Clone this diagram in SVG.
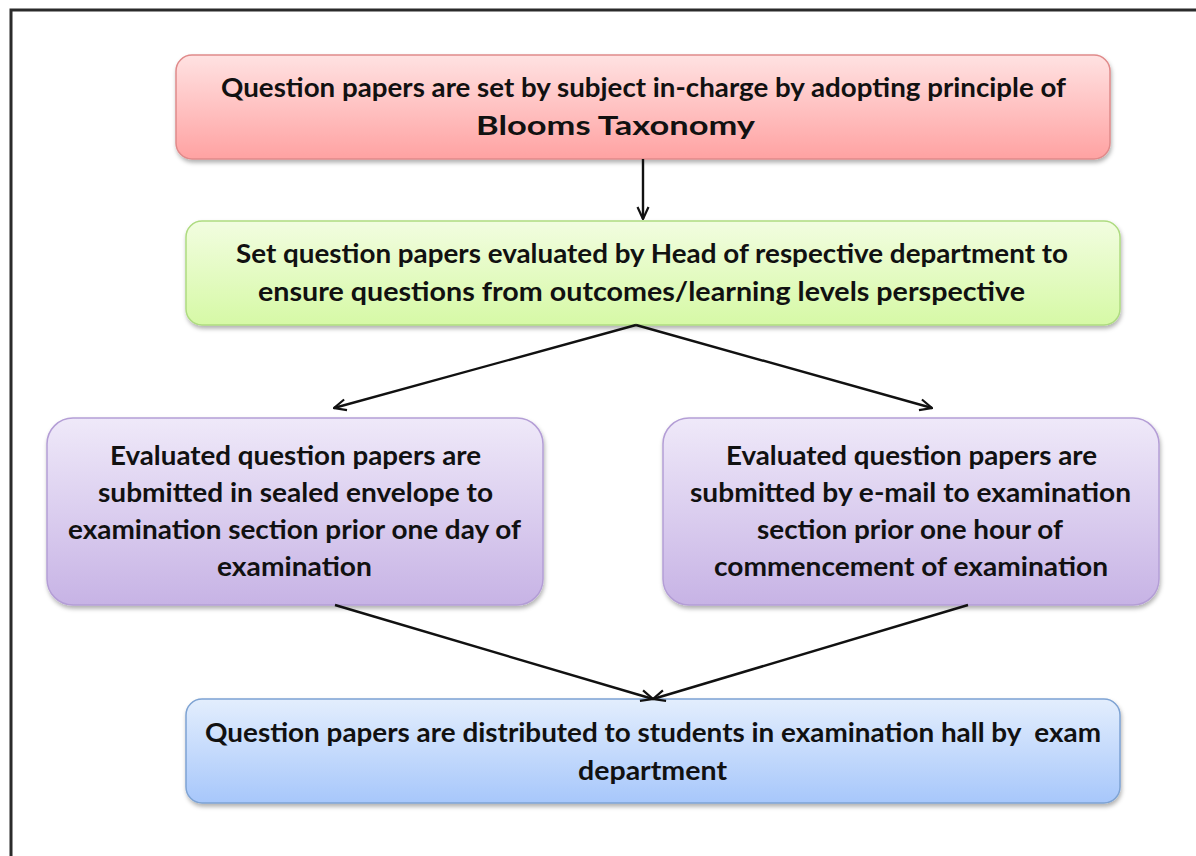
<svg xmlns="http://www.w3.org/2000/svg" width="1196" height="856" viewBox="0 0 1196 856">
<defs>
<style>
.t{font-family:Lato,"Liberation Sans",sans-serif;font-weight:bold;font-size:27.5px;fill:#111;white-space:pre;}
.c{fill:none;stroke:#111;stroke-width:2.4;}
</style>
<linearGradient id="gRed" x1="0" y1="0" x2="0" y2="1"><stop offset="0" stop-color="#ffe2e2"/><stop offset="1" stop-color="#ffa2a2"/></linearGradient>
<linearGradient id="gGreen" x1="0" y1="0" x2="0" y2="1"><stop offset="0" stop-color="#f2fde0"/><stop offset="1" stop-color="#d6f9a6"/></linearGradient>
<linearGradient id="gPurple" x1="0" y1="0" x2="0" y2="1"><stop offset="0" stop-color="#efe9f9"/><stop offset="1" stop-color="#c7b3e5"/></linearGradient>
<linearGradient id="gBlue" x1="0" y1="0" x2="0" y2="1"><stop offset="0" stop-color="#e3eefd"/><stop offset="1" stop-color="#a7c7fb"/></linearGradient>
<filter id="sh" x="-5%" y="-10%" width="110%" height="130%"><feDropShadow dx="1" dy="3" stdDeviation="2" flood-color="#000" flood-opacity="0.3"/></filter>
<marker id="arr" viewBox="0 0 14 14" refX="13" refY="7" markerWidth="14" markerHeight="14" markerUnits="userSpaceOnUse" orient="auto"><path d="M1,1.5 L13,7 L1,12.5" fill="none" stroke="#111" stroke-width="2.2"/></marker>
</defs>
<rect width="1196" height="856" fill="#fff"/>
<rect x="11" y="10" width="1200" height="860" fill="none" stroke="#2b2b2b" stroke-width="3"/>

<g id="n1">
<rect x="176" y="55" width="934" height="104" rx="16" fill="url(#gRed)" stroke="#e08a8a" stroke-width="1.5" filter="url(#sh)"/>
<text class="t" x="221" y="97" textLength="845" lengthAdjust="spacingAndGlyphs">Question papers are set by subject in-charge by adopting principle of</text>
<text class="t" x="476" y="135" textLength="279" lengthAdjust="spacingAndGlyphs">Blooms Taxonomy</text>
</g>

<g id="n2">
<rect x="186" y="221" width="934" height="104" rx="16" fill="url(#gGreen)" stroke="#aedb80" stroke-width="1.5" filter="url(#sh)"/>
<text class="t" x="236" y="263" textLength="832" lengthAdjust="spacingAndGlyphs">Set question papers evaluated by Head of respective department to</text>
<text class="t" x="258" y="301" textLength="767" lengthAdjust="spacingAndGlyphs">ensure questions from outcomes/learning levels perspective</text>
</g>

<g id="n3">
<rect x="47" y="418" width="496" height="187" rx="26" fill="url(#gPurple)" stroke="#b49ed6" stroke-width="1.5" filter="url(#sh)"/>
<text class="t" x="110" y="465" textLength="371" lengthAdjust="spacingAndGlyphs">Evaluated question papers are</text>
<text class="t" x="98" y="502" textLength="395" lengthAdjust="spacingAndGlyphs">submitted in sealed envelope to</text>
<text class="t" x="68" y="539" textLength="453" lengthAdjust="spacingAndGlyphs">examination section prior one day of</text>
<text class="t" x="217" y="576" textLength="155" lengthAdjust="spacingAndGlyphs">examination</text>
</g>

<g id="n4">
<rect x="663" y="418" width="496" height="187" rx="26" fill="url(#gPurple)" stroke="#b49ed6" stroke-width="1.5" filter="url(#sh)"/>
<text class="t" x="726" y="465" textLength="371" lengthAdjust="spacingAndGlyphs">Evaluated question papers are</text>
<text class="t" x="690" y="502" textLength="441" lengthAdjust="spacingAndGlyphs">submitted by e-mail to examination</text>
<text class="t" x="757" y="539" textLength="306" lengthAdjust="spacingAndGlyphs">section prior one hour of</text>
<text class="t" x="714" y="576" textLength="394" lengthAdjust="spacingAndGlyphs">commencement of examination</text>
</g>

<g id="n5">
<rect x="186" y="699" width="934" height="104" rx="16" fill="url(#gBlue)" stroke="#7ea3d3" stroke-width="1.5" filter="url(#sh)"/>
<text class="t" x="205" y="742" textLength="896" lengthAdjust="spacingAndGlyphs">Question papers are distributed to students in examination hall by  exam</text>
<text class="t" x="578" y="780" textLength="149" lengthAdjust="spacingAndGlyphs">department</text>
</g>

<g id="connectors">
<line class="c" x1="643" y1="159" x2="643" y2="219" marker-end="url(#arr)"/>
<line class="c" x1="636" y1="325" x2="334" y2="408" marker-end="url(#arr)"/>
<line class="c" x1="636" y1="325" x2="932" y2="408" marker-end="url(#arr)"/>
<line class="c" x1="335" y1="605" x2="653" y2="699" marker-end="url(#arr)"/>
<line class="c" x1="968" y1="605" x2="653" y2="699" marker-end="url(#arr)"/>
</g>
</svg>
